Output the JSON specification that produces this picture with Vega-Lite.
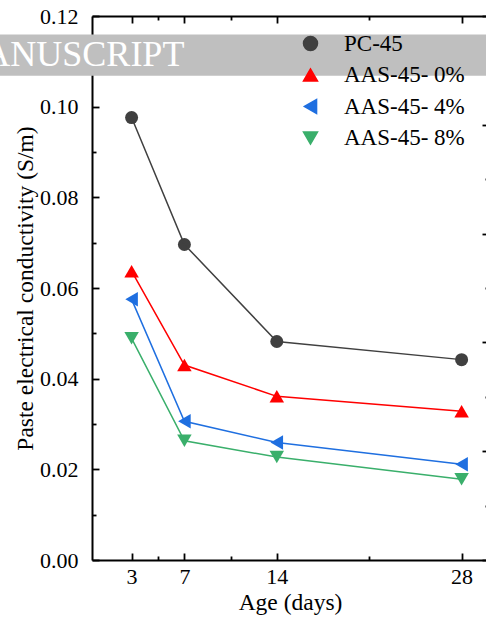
{
  "$schema": "https://vega.github.io/schema/vega-lite/v6.json",
  "width": 396,
  "height": 544,
  "autosize": "none",
  "padding": {"left": 92, "top": 16, "right": 0, "bottom": 62},
  "background": "white",
  "config": {
    "view": {"stroke": null},
    "font": "Liberation Serif",
    "axis": {
      "grid": false,
      "domainColor": "black",
      "domainWidth": 2,
      "tickColor": "black",
      "tickWidth": 1.8,
      "labelFont": "Liberation Serif",
      "labelFontSize": 22,
      "labelColor": "black",
      "labelFlush": false,
      "labelOverlap": false,
      "titleFont": "Liberation Serif",
      "titleFontSize": 23.5,
      "titleFontWeight": "normal",
      "titleColor": "black",
      "zindex": 1
    },
    "legend": {
      "labelFont": "Liberation Serif",
      "labelFontSize": 23,
      "labelColor": "black"
    }
  },
  "data": {
    "values": [
      {"age": 3, "value": 0.0976, "series": "PC-45"},
      {"age": 7, "value": 0.0696, "series": "PC-45"},
      {"age": 14, "value": 0.0482, "series": "PC-45"},
      {"age": 28, "value": 0.0442, "series": "PC-45"},
      {"age": 3, "value": 0.0637, "series": "AAS-45- 0%"},
      {"age": 7, "value": 0.0430, "series": "AAS-45- 0%"},
      {"age": 14, "value": 0.0361, "series": "AAS-45- 0%"},
      {"age": 28, "value": 0.0328, "series": "AAS-45- 0%"},
      {"age": 3, "value": 0.0575, "series": "AAS-45- 4%"},
      {"age": 7, "value": 0.0306, "series": "AAS-45- 4%"},
      {"age": 14, "value": 0.0259, "series": "AAS-45- 4%"},
      {"age": 28, "value": 0.0211, "series": "AAS-45- 4%"},
      {"age": 3, "value": 0.0489, "series": "AAS-45- 8%"},
      {"age": 7, "value": 0.0263, "series": "AAS-45- 8%"},
      {"age": 14, "value": 0.0227, "series": "AAS-45- 8%"},
      {"age": 28, "value": 0.0178, "series": "AAS-45- 8%"}
    ]
  },
  "resolve": {"axis": {"x": "independent", "y": "independent"}},
  "layer": [
    {
      "data": {"values": [{"label": "MANUSCRIPT"}]},
      "mark": {"type": "rect", "color": "#bfbfbf"},
      "encoding": {
        "x": {"datum": -7, "type": "quantitative", "axis": null},
        "x2": {"datum": 30},
        "y": {"datum": 0.1068, "type": "quantitative", "axis": null},
        "y2": {"datum": 0.1159}
      }
    },
    {
      "data": {"values": [{"label": "MANUSCRIPT"}]},
      "mark": {"type": "text", "color": "white", "font": "Liberation Serif", "fontSize": 36, "align": "right", "baseline": "alphabetic"},
      "encoding": {
        "x": {"datum": 7.0, "type": "quantitative", "axis": null},
        "y": {"datum": 0.1090, "type": "quantitative", "axis": null},
        "text": {"field": "label"}
      }
    },
    {
      "mark": {"type": "point", "filled": true, "opacity": 1},
      "encoding": {
        "x": {"field": "age", "type": "quantitative",
          "scale": {"domain": [0, 30], "nice": false, "zero": false},
          "axis": {"orient": "top", "values": [3, 7, 14, 28], "labels": false, "title": null, "tickSize": -7}},
        "y": {"field": "value", "type": "quantitative",
          "scale": {"domain": [0, 0.12], "nice": false, "zero": false},
          "axis": {"orient": "right", "values": [0, 0.024, 0.048, 0.072, 0.096, 0.12], "labels": false, "title": null, "tickSize": -6}},
        "color": {
          "field": "series", "type": "nominal",
          "scale": {"domain": ["PC-45", "AAS-45- 0%", "AAS-45- 4%", "AAS-45- 8%"], "range": ["#404040", "#ff0000", "#1f6fe0", "#3aaf6b"]},
          "legend": {
            "orient": "none", "legendX": 207, "legendY": 16, "title": null,
            "padding": 0, "symbolSize": 196, "labelOffset": 22, "rowPadding": 7.5,
            "labelFont": "Liberation Serif", "labelFontSize": 23, "labelColor": "black",
            "symbolOpacity": 1
          }
        },
        "shape": {
          "field": "series", "type": "nominal",
          "scale": {"domain": ["PC-45", "AAS-45- 0%", "AAS-45- 4%", "AAS-45- 8%"], "range": ["circle", "triangle-up", "triangle-left", "triangle-down"]},
          "legend": null
        },
        "size": {"condition": {"test": "datum.series === 'PC-45'", "value": 169}, "value": 210}
      }
    },
    {
      "mark": {"type": "line", "strokeWidth": 1.5},
      "encoding": {
        "x": {
          "field": "age", "type": "quantitative",
          "axis": {"orient": "bottom", "values": [3, 7, 14, 28], "title": "Age (days)", "tickSize": -7, "labelPadding": 13, "titlePadding": 3}
        },
        "y": {
          "field": "value", "type": "quantitative",
          "axis": {"orient": "left", "values": [0, 0.02, 0.04, 0.06, 0.08, 0.1, 0.12], "format": ".2f", "title": "Paste electrical conductivity (S/m)", "tickSize": -7, "labelPadding": 21, "titlePadding": 2}
        },
        "color": {"field": "series", "type": "nominal", "legend": null}
      }
    },
    {
      "mark": {"type": "point", "opacity": 0},
      "encoding": {
        "x": {"field": "age", "type": "quantitative",
          "axis": {"orient": "bottom", "values": [5, 10.5, 21], "labels": false, "title": null, "domain": false, "tickSize": -4}},
        "y": {"field": "value", "type": "quantitative",
          "axis": {"orient": "left", "values": [0.01, 0.03, 0.05, 0.07, 0.09, 0.11], "labels": false, "title": null, "domain": false, "tickSize": -4}}
      }
    },
    {
      "mark": {"type": "point", "opacity": 0},
      "encoding": {
        "x": {"field": "age", "type": "quantitative",
          "axis": {"orient": "top", "values": [5, 10.5, 21], "labels": false, "title": null, "domain": false, "tickSize": -4}},
        "y": {"field": "value", "type": "quantitative",
          "axis": {"orient": "right", "values": [0.012, 0.036, 0.06, 0.084, 0.108], "labels": false, "title": null, "domain": false, "tickSize": -3}}
      }
    }
  ]
}
